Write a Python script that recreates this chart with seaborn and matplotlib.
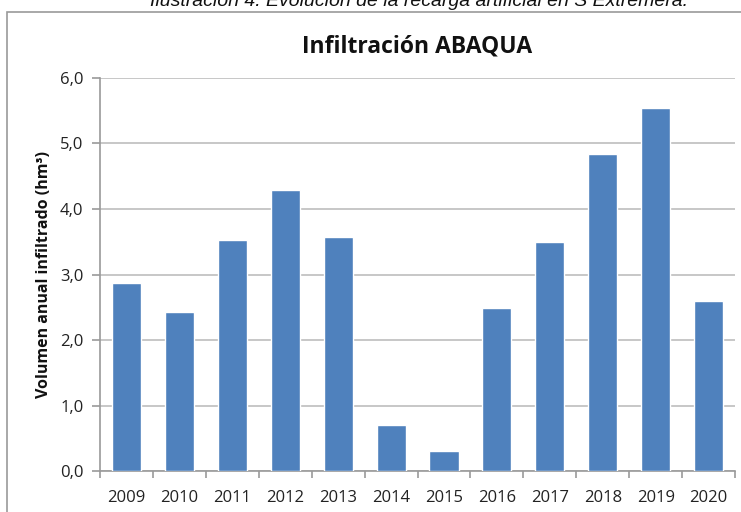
import pandas as pd
import matplotlib.pyplot as plt
import seaborn as sns
import numpy as np
from matplotlib.patches import Rectangle
from matplotlib.ticker import FixedLocator, FuncFormatter

# datos
years = ["2009", "2010", "2011", "2012", "2013", "2014",
         "2015", "2016", "2017", "2018", "2019", "2020"]
volumen = [2.87, 2.43, 3.53, 4.29, 3.57, 0.70,
           0.31, 2.49, 3.50, 4.84, 5.54, 2.60]
y_ticks = [0, 1, 2, 3, 4, 5, 6]

df = pd.DataFrame({"año": years, "volumen": volumen})

sns.set_theme(style="white")
plt.rcParams["font.family"] = ["Open Sans", "DejaVu Sans"]

fig = plt.figure(figsize=(7.41, 5.12), dpi=100)
ax = fig.add_axes([0.135, 0.080, 0.857, 0.7677])

# pie de figura (recortado arriba, como en el original) y marco del gráfico
fig.text(0.565, 0.997, "Ilustración 4. Evolución de la recarga artificial en S Extremera.",
         ha="center", va="center", fontsize=14, style="italic",
         family=["Liberation Sans", "DejaVu Sans"], color="#111111")
fig.patches.append(Rectangle((7 / 741, -0.05), 1.0, 0.05 + 1 - 12 / 512,
                             transform=fig.transFigure, fill=False,
                             edgecolor="#9a9a9a", linewidth=1.2, zorder=0))

sns.barplot(data=df, x="año", y="volumen", color="#4f81bd", saturation=1,
            width=0.55, ax=ax, zorder=3)

ax.set_xlim(-0.5, len(years) - 0.5)
ax.set_ylim(0, 6)
ax.yaxis.set_major_locator(FixedLocator(y_ticks))
ax.yaxis.set_major_formatter(FuncFormatter(lambda v, p: f"{v:.1f}".replace(".", ",")))
ax.grid(axis="y", color="#bdbdbd", linewidth=1.2, zorder=0)
ax.set_axisbelow(True)

for s in ["top", "right"]:
    ax.spines[s].set_visible(False)
for s in ["left", "bottom"]:
    ax.spines[s].set_color("#9a9a9a")
    ax.spines[s].set_linewidth(1.2)

ax.tick_params(axis="y", direction="out", length=6, width=1.2, color="#9a9a9a",
               labelsize=12, labelcolor="#222222", pad=6, left=True)
ax.tick_params(axis="x", which="major", length=0, labelsize=12,
               labelcolor="#222222", pad=14)
ax.xaxis.set_minor_locator(FixedLocator(np.arange(-0.5, len(years), 1.0)))
ax.tick_params(axis="x", which="minor", direction="out", length=5, width=1.2,
               color="#9a9a9a", bottom=True)

ax.set_xlabel("")
ax.set_ylabel("Volumen anual infiltrado (hm³)", fontsize=11.5, fontweight="bold",
              color="#111111", labelpad=6)
ax.set_title("Infiltración ABAQUA", fontsize=16.5, fontweight="bold",
             color="#111111", pad=18)

fig.savefig("out.png", dpi=100)
